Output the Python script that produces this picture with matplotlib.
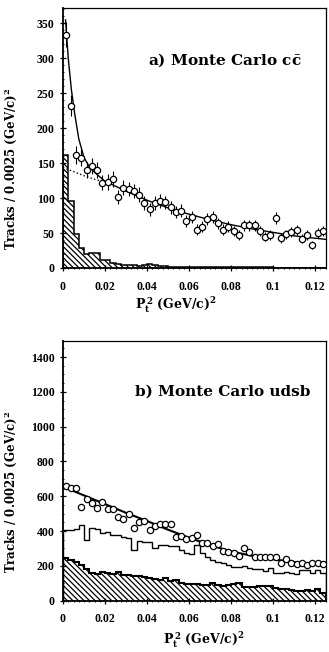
import numpy as np
import matplotlib
matplotlib.use("Agg")
import matplotlib.pyplot as plt
from matplotlib.ticker import MultipleLocator

# ---------------- data ----------------
bin_width = 0.0025
n_bins = 50

# panel a) Monte Carlo c cbar
a_points = [334, 232, 162, 158, 140, 146, 140, 122, 123, 127,
            102, 115, 113, 110, 105, 93, 84, 93, 96, 94,
            87, 80, 82, 67, 73, 55, 59, 70, 73, 64,
            55, 59, 53, 47, 61, 61, 61, 53, 45, 47,
            72, 43, 48, 52, 54, 42, 47, 33, 50, 53]
a_hatched = [161, 96, 49, 28, 20, 22, 22, 12, 11, 7,
             6, 5, 4, 4, 3, 4, 6, 5, 3, 3,
             2, 2, 2, 2, 1.5, 2, 1.5, 1.5, 1, 1,
             1, 1, 1, 1, 1, 1, 1, 1, 1, 1,
             0.5, 0, 0, 0, 0, 0, 0, 0, 0, 0]
a_fit_x = [0.0012, 0.0025, 0.004, 0.0055, 0.0075, 0.01, 0.0125, 0.015, 0.02,
           0.03, 0.04, 0.05, 0.06, 0.07, 0.08, 0.09, 0.10, 0.11, 0.125]
a_fit_y = [355, 300, 255, 222, 185, 158, 145, 137, 124,
           110, 97, 86, 77, 69, 62, 56, 51, 46, 41]
a_bkg_x = [0.0, 0.005, 0.01, 0.015, 0.02]
a_bkg_y = [144, 138, 132, 127, 123]

# panel b) Monte Carlo udsb
b_points = [660, 645, 648, 537, 584, 560, 531, 565, 527, 527,
            483, 469, 497, 416, 454, 460, 406, 431, 439, 439,
            439, 364, 374, 353, 359, 378, 333, 330, 314, 324,
            287, 282, 276, 257, 301, 282, 249, 249, 253, 253,
            253, 215, 240, 218, 209, 218, 205, 218, 218, 210]
b_open = [408, 408, 410, 435, 350, 416, 412, 390, 392, 380,
          375, 368, 359, 290, 345, 338, 339, 301, 320, 320,
          314, 314, 291, 276, 268, 320, 272, 253, 234, 224,
          215, 205, 195, 192, 199, 186, 180, 180, 172, 186,
          157, 157, 167, 157, 153, 176, 176, 157, 176, 161]
b_hatched = [247, 234, 220, 205, 183, 160, 153, 166, 160, 151,
             166, 147, 145, 140, 140, 138, 132, 125, 119, 128,
             115, 118, 104, 96, 96, 98, 90, 92, 100, 92,
             86, 88, 96, 103, 80, 78, 80, 82, 86, 84,
             72, 66, 70, 62, 58, 55, 62, 58, 70, 46]
b_fit_x = [0, 0.01, 0.02, 0.03, 0.04, 0.05, 0.06, 0.07, 0.08, 0.09, 0.10, 0.11, 0.125]
b_fit_y = [655, 605, 555, 505, 458, 408, 362, 320, 283, 258, 238, 222, 207]

x_ticks = [0, 0.02, 0.04, 0.06, 0.08, 0.1, 0.12]
x_ticklabels = ["0", "0.02", "0.04", "0.06", "0.08", "0.1", "0.12"]

# ---------------- style ----------------
plt.rcParams['font.family'] = ['Liberation Serif', 'DejaVu Serif']
plt.rcParams['font.weight'] = 'bold'
plt.rcParams['mathtext.fontset'] = 'custom'
plt.rcParams['mathtext.rm'] = 'DejaVu Serif:bold'
plt.rcParams['mathtext.it'] = 'DejaVu Serif:bold'
plt.rcParams['mathtext.bf'] = 'DejaVu Serif:bold'
plt.rcParams['hatch.linewidth'] = 0.9

LABEL_FONT = ['DejaVu Serif']
HATCH = '\\' * 6

edges = np.arange(n_bins + 1) * bin_width
centers = 0.5 * (edges[:-1] + edges[1:])

fig = plt.figure(figsize=(3.29, 6.52), dpi=100)
ax1 = fig.add_axes([63/329, (652-268)/652, 262.5/329, 260/652])
ax2 = fig.add_axes([63/329, (652-600.7)/652, 262.5/329, 260/652])

ylabel = r"Tracks / 0.0025 (GeV/c)$^{2}$"
xlabel = r"P$_{\mathrm{t}}^{\,\mathrm{2}}$ (GeV/c)$^{2}$"


def style_axis(ax, ymax, ymajor, yminor):
    ax.set_xlim(0, 0.125)
    ax.set_ylim(0, ymax)
    ax.set_xticks(x_ticks)
    ax.set_xticklabels(x_ticklabels)
    ax.xaxis.set_minor_locator(MultipleLocator(0.0025))
    ax.yaxis.set_major_locator(MultipleLocator(ymajor))
    ax.yaxis.set_minor_locator(MultipleLocator(yminor))
    ax.tick_params(which='major', direction='inout', length=4, width=0.9,
                   labelsize=8.5, pad=4)
    ax.tick_params(axis='x', which='major', pad=7)
    ax.tick_params(which='minor', direction='inout', length=2, width=0.7)
    ax.tick_params(top=False, right=False, which='both')
    for s in ['top', 'right']:
        ax.spines[s].set_linewidth(0.9)
    for s in ['left', 'bottom']:
        ax.spines[s].set_linewidth(1.3)
    for lab in ax.get_xticklabels() + ax.get_yticklabels():
        lab.set_fontweight('bold')


# ---- panel a ----
ax1.stairs(a_hatched, edges, fill=True, facecolor='white', edgecolor='black',
           hatch=HATCH, linewidth=0)
ax1.stairs(a_hatched, edges, fill=False, color='black', linewidth=1.1)
ax1.plot(a_bkg_x, a_bkg_y, linestyle=':', color='black', linewidth=1.0)
ax1.plot(a_fit_x, a_fit_y, color='black', linewidth=1.0)
ax1.errorbar(centers, a_points, yerr=np.sqrt(a_points), fmt='o', ms=4.5,
             mfc='white', mec='black', mew=0.9, ecolor='black', elinewidth=0.8,
             capsize=0, zorder=5)
style_axis(ax1, 372, 50, 10)
ax1.text(0.324, 0.80, r"a) Monte Carlo c$\bar{\mathrm{c}}$", transform=ax1.transAxes,
         fontsize=11, fontweight='bold', va='center', ha='left', family=LABEL_FONT)
ax1.set_ylabel(ylabel, fontsize=8.5, fontweight='bold', family=LABEL_FONT)
ax1.yaxis.set_label_coords(-0.168, 0.38)
ax1.set_xlabel(xlabel, fontsize=9, fontweight='bold', family=LABEL_FONT)
ax1.xaxis.set_label_coords((176-63)/262.5, -0.105)

# ---- panel b ----
ax2.stairs(b_hatched, edges, fill=True, facecolor='white', edgecolor='black',
           hatch=HATCH, linewidth=0)
ax2.stairs(b_hatched, edges, fill=False, color='black', linewidth=1.5)
ax2.stairs(b_open, edges, fill=False, color='black', linewidth=1.0)
ax2.plot(b_fit_x, b_fit_y, color='black', linewidth=1.5)
ax2.plot(centers, b_points, 'o', ms=4.5, mfc='white', mec='black', mew=0.9,
         zorder=5)
style_axis(ax2, 1494, 200, 50)
ax2.text(0.274, 0.803, "b) Monte Carlo udsb", transform=ax2.transAxes,
         fontsize=11, fontweight='bold', va='center', ha='left', family=LABEL_FONT)
ax2.set_ylabel(ylabel, fontsize=8.5, fontweight='bold', family=LABEL_FONT)
ax2.yaxis.set_label_coords(-0.168, 0.42)
ax2.set_xlabel(xlabel, fontsize=9, fontweight='bold', family=LABEL_FONT)
ax2.xaxis.set_label_coords((204-63)/262.5, -0.115)

fig.savefig("out.png", dpi=100)
